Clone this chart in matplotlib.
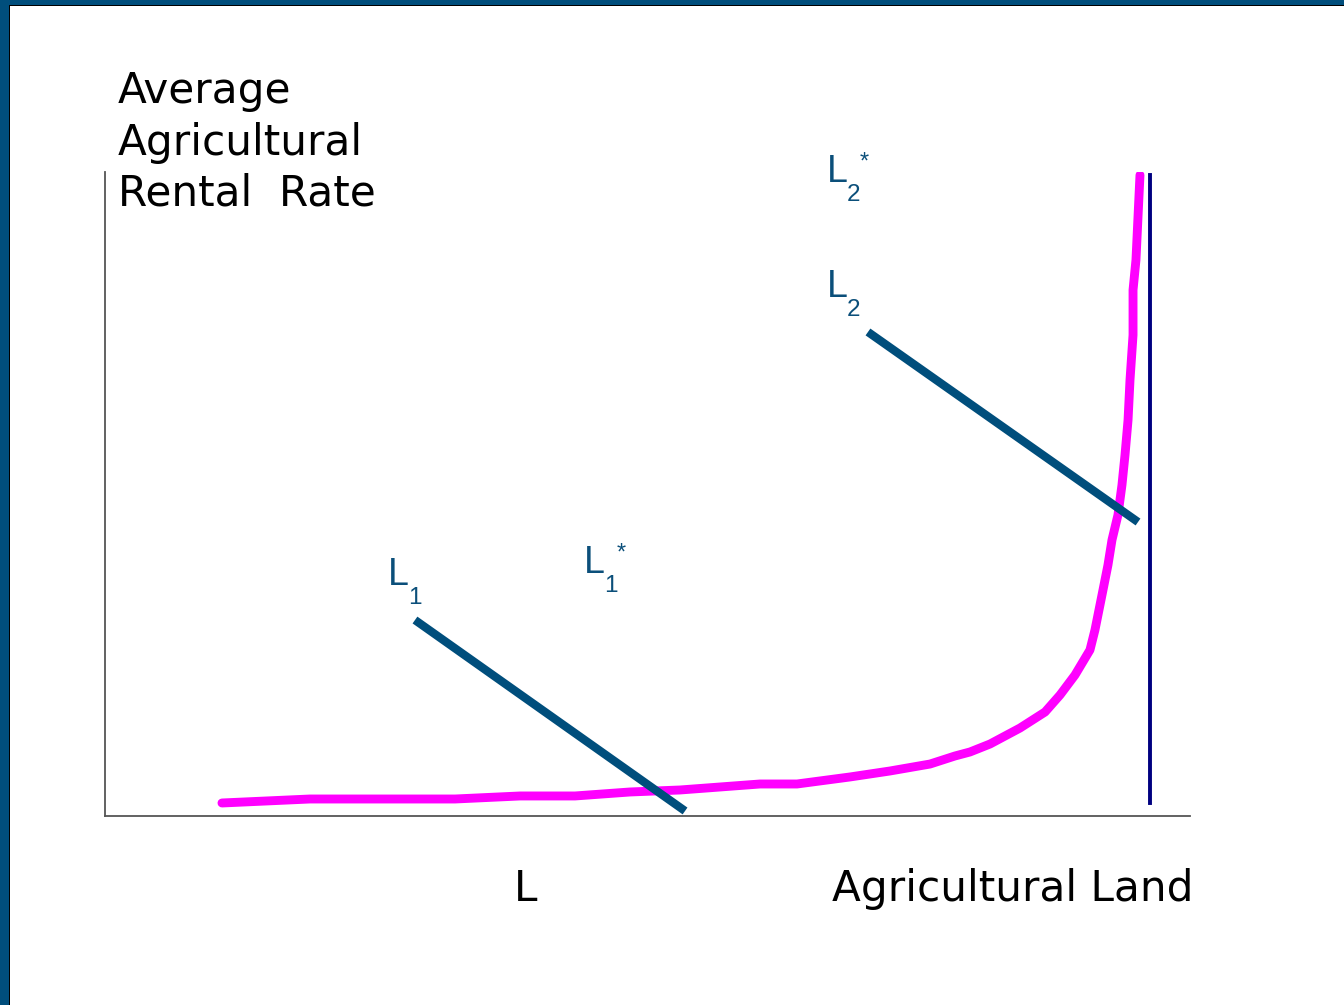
import matplotlib
matplotlib.use("Agg")
import matplotlib.pyplot as plt
from matplotlib.patches import Rectangle

# ---- data (axis units: 0-100 on both axes) ----
curve_x = [10.78, 18.89, 32.26, 38.25, 43.32, 48.39, 53.00, 60.37, 63.78, 68.66,
           72.35, 76.04, 78.34, 79.72, 81.57, 84.33, 86.64, 88.02, 89.40, 90.78,
           91.24, 91.98, 92.44, 92.81, 93.36, 93.73, 94.01, 94.29, 94.47, 94.75,
           94.75, 95.02, 95.39]
curve_y = [2.02, 2.64, 2.64, 3.11, 3.11, 3.73, 4.04, 4.97, 4.97, 6.06,
           6.99, 8.07, 9.32, 9.94, 11.18, 13.66, 16.15, 18.79, 21.89, 25.78,
           28.88, 35.09, 38.98, 42.86, 46.74, 51.40, 56.06, 61.49, 67.70, 74.69,
           81.68, 86.34, 99.53]
limit_x = [96.31, 96.31]
limit_y = [2.0, 99.5]
l1_x = [28.57, 53.46]
l1_y = [30.43, 0.78]
l2_x = [70.32, 95.21]
l2_y = [75.16, 45.65]

W, H = 1344, 1005
fig = plt.figure(figsize=(W / 100, H / 100), dpi=100)
fig.patch.set_facecolor("white")

def fx(px):
    return px / W

def fy(py):
    return 1 - py / H

# frame (dark blue band top & left)
blue = "#004E7C"
fig.patches.append(Rectangle((0, fy(5)), 1, 5 / H, transform=fig.transFigure,
                             facecolor=blue, edgecolor="none", zorder=0))
fig.patches.append(Rectangle((0, fy(6)), 1, 1 / H, transform=fig.transFigure,
                             facecolor="black", edgecolor="none", zorder=0))
fig.patches.append(Rectangle((0, 0), 9 / W, 1, transform=fig.transFigure,
                             facecolor=blue, edgecolor="none", zorder=0))
fig.patches.append(Rectangle((9 / W, 0), 1 / W, fy(5), transform=fig.transFigure,
                             facecolor="black", edgecolor="none", zorder=0))

ax = fig.add_axes([fx(105), fy(816), (1190 - 105) / W, (816 - 172) / H])
ax.set_xlim(0, 100)
ax.set_ylim(0, 100)
ax.set_facecolor("none")
for s in ["top", "right"]:
    ax.spines[s].set_visible(False)
for s in ["left", "bottom"]:
    ax.spines[s].set_color("#555555")
    ax.spines[s].set_linewidth(1.3)
ax.set_xticks([])
ax.set_yticks([])

ax.plot(curve_x, curve_y, color="#FF00FF", lw=6.4, solid_capstyle="round",
        solid_joinstyle="round", zorder=2)
ax.plot(limit_x, limit_y, color="#000080", lw=2.8, zorder=2)
ax.plot(l1_x, l1_y, color="#004E7C", lw=6, solid_capstyle="butt", zorder=3)
ax.plot(l2_x, l2_y, color="#004E7C", lw=6, solid_capstyle="butt", zorder=3)

# black texts
tfont = dict(family="DejaVu Sans", color="black", fontsize=30.3, va="baseline")
fig.text(fx(118), fy(103), "Average", **tfont)
fig.text(fx(118), fy(155), "Agricultural", **tfont)
fig.text(fx(118), fy(205), "Rental  Rate", **tfont)
fig.text(fx(514), fy(901), "L", **tfont)
fig.text(fx(1193), fy(901), "Agricultural Land", ha="right", **tfont)

# L labels
lc = "#0B4F7A"
lfont = dict(family="Liberation Sans", color=lc, va="baseline")

def label(x, y, sub, star=False):
    fig.text(fx(x), fy(y), "L", fontsize=27, **lfont)
    fig.text(fx(x + 20), fy(y + 19), sub, fontsize=17.5, **lfont)
    if star:
        fig.text(fx(x + 33), fy(y - 30), "*", fontsize=17, family="Liberation Sans",
                 color=lc, va="top")

label(388, 585, "1")
label(584, 573, "1", star=True)
label(827, 297, "2")
label(827, 182, "2", star=True)

fig.savefig("out.png", dpi=100, facecolor=fig.get_facecolor())
